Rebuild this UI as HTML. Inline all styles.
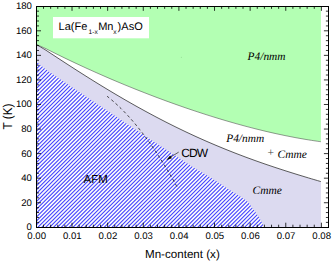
<!DOCTYPE html>
<html><head><meta charset="utf-8"><style>
html,body{margin:0;padding:0;background:#fff;width:335px;height:264px;overflow:hidden}
svg{display:block;text-rendering:geometricPrecision}
</style></head><body>
<svg width="335" height="264" viewBox="0 0 335 264">
<rect width="335" height="264" fill="#fff"/>
<path d="M36.00,6.25 L320.90,6.25 L320.90,141.73 C320.08,141.62 318.48,141.42 316.00,141.04 C313.52,140.67 309.33,140.03 306.00,139.48 C302.67,138.93 299.33,138.34 296.00,137.72 C292.67,137.11 289.33,136.46 286.00,135.78 C282.67,135.10 279.33,134.40 276.00,133.66 C272.67,132.93 269.33,132.17 266.00,131.38 C262.67,130.59 259.33,129.78 256.00,128.94 C252.67,128.10 249.33,127.23 246.00,126.35 C242.67,125.46 239.33,124.55 236.00,123.61 C232.67,122.68 229.33,121.72 226.00,120.74 C222.67,119.76 219.33,118.76 216.00,117.73 C212.67,116.71 209.33,115.67 206.00,114.60 C202.67,113.54 199.33,112.45 196.00,111.35 C192.67,110.24 189.33,109.12 186.00,107.97 C182.67,106.83 179.33,105.67 176.00,104.48 C172.67,103.30 169.33,102.10 166.00,100.88 C162.67,99.66 159.33,98.42 156.00,97.17 C152.67,95.91 149.33,94.63 146.00,93.34 C142.67,92.05 139.33,90.73 136.00,89.40 C132.67,88.07 129.33,86.72 126.00,85.36 C122.67,83.99 119.33,82.60 116.00,81.20 C112.67,79.79 109.33,78.37 106.00,76.92 C102.67,75.48 99.33,74.01 96.00,72.53 C92.67,71.05 89.33,69.55 86.00,68.02 C82.67,66.50 79.33,64.95 76.00,63.39 C72.67,61.82 69.33,60.24 66.00,58.63 C62.67,57.02 59.33,55.39 56.00,53.74 C52.67,52.08 49.33,50.28 46.00,48.71 C42.67,47.13 37.67,45.03 36.00,44.30 Z" fill="#b3ffb3"/>
<path d="M36.00,44.30 C37.67,45.30 42.67,48.19 46.00,50.28 C49.33,52.38 52.67,54.68 56.00,56.87 C59.33,59.05 62.67,61.23 66.00,63.39 C69.33,65.56 72.67,67.71 76.00,69.84 C79.33,71.97 82.67,74.09 86.00,76.19 C89.33,78.29 92.67,80.38 96.00,82.44 C99.33,84.50 102.67,86.54 106.00,88.56 C109.33,90.57 112.67,92.57 116.00,94.54 C119.33,96.51 122.67,98.46 126.00,100.38 C129.33,102.30 132.67,104.20 136.00,106.07 C139.33,107.94 142.67,109.78 146.00,111.59 C149.33,113.41 152.67,115.19 156.00,116.95 C159.33,118.70 162.67,120.43 166.00,122.13 C169.33,123.83 172.67,125.50 176.00,127.13 C179.33,128.77 182.67,130.38 186.00,131.96 C189.33,133.54 192.67,135.09 196.00,136.61 C199.33,138.13 202.67,139.62 206.00,141.08 C209.33,142.54 212.67,143.97 216.00,145.37 C219.33,146.77 222.67,148.15 226.00,149.49 C229.33,150.84 232.67,152.16 236.00,153.45 C239.33,154.74 242.67,156.00 246.00,157.24 C249.33,158.48 252.67,159.69 256.00,160.88 C259.33,162.07 262.67,163.23 266.00,164.38 C269.33,165.52 272.67,166.64 276.00,167.74 C279.33,168.85 282.67,169.93 286.00,170.99 C289.33,172.05 292.67,173.10 296.00,174.13 C299.33,175.16 302.67,176.17 306.00,177.18 C309.33,178.18 313.52,179.42 316.00,180.15 C318.48,180.89 320.08,181.35 320.90,181.59 L320.90,227.30 L36.00,227.30 Z" fill="#dcdaf0"/>
<clipPath id="hc"><path d="M36.00,61.30 C37.67,62.66 42.67,66.95 46.00,69.43 C49.33,71.91 52.67,73.94 56.00,76.20 C59.33,78.45 62.67,80.71 66.00,82.96 C69.33,85.21 72.67,87.46 76.00,89.71 C79.33,91.95 82.67,94.20 86.00,96.44 C89.33,98.69 92.67,100.93 96.00,103.17 C99.33,105.40 102.67,107.64 106.00,109.87 C109.33,112.10 112.67,114.33 116.00,116.56 C119.33,118.78 122.67,121.01 126.00,123.22 C129.33,125.44 132.67,127.65 136.00,129.86 C139.33,132.07 142.67,134.28 146.00,136.47 C149.33,138.67 152.67,140.87 156.00,143.06 C159.33,145.25 162.67,147.43 166.00,149.61 C169.33,151.79 172.67,153.96 176.00,156.12 C179.33,158.29 182.67,160.45 186.00,162.60 C189.33,164.76 192.67,167.02 196.00,169.04 C199.33,171.06 202.67,172.71 206.00,174.70 C209.33,176.69 212.67,178.88 216.00,181.00 C219.33,183.12 222.67,185.27 226.00,187.40 C229.33,189.53 232.62,191.60 236.00,193.80 C239.38,196.00 243.73,198.43 246.30,200.60 C248.87,202.77 249.70,204.63 251.40,206.80 C253.10,208.97 254.98,211.42 256.50,213.60 C258.02,215.78 259.37,218.00 260.50,219.90 C261.63,221.80 262.68,223.77 263.30,225.00 C263.92,226.23 264.05,226.92 264.20,227.30 L36.00,227.30 Z"/></clipPath>
<path d="M36.00,61.30 C37.67,62.66 42.67,66.95 46.00,69.43 C49.33,71.91 52.67,73.94 56.00,76.20 C59.33,78.45 62.67,80.71 66.00,82.96 C69.33,85.21 72.67,87.46 76.00,89.71 C79.33,91.95 82.67,94.20 86.00,96.44 C89.33,98.69 92.67,100.93 96.00,103.17 C99.33,105.40 102.67,107.64 106.00,109.87 C109.33,112.10 112.67,114.33 116.00,116.56 C119.33,118.78 122.67,121.01 126.00,123.22 C129.33,125.44 132.67,127.65 136.00,129.86 C139.33,132.07 142.67,134.28 146.00,136.47 C149.33,138.67 152.67,140.87 156.00,143.06 C159.33,145.25 162.67,147.43 166.00,149.61 C169.33,151.79 172.67,153.96 176.00,156.12 C179.33,158.29 182.67,160.45 186.00,162.60 C189.33,164.76 192.67,167.02 196.00,169.04 C199.33,171.06 202.67,172.71 206.00,174.70 C209.33,176.69 212.67,178.88 216.00,181.00 C219.33,183.12 222.67,185.27 226.00,187.40 C229.33,189.53 232.62,191.60 236.00,193.80 C239.38,196.00 243.73,198.43 246.30,200.60 C248.87,202.77 249.70,204.63 251.40,206.80 C253.10,208.97 254.98,211.42 256.50,213.60 C258.02,215.78 259.37,218.00 260.50,219.90 C261.63,221.80 262.68,223.77 263.30,225.00 C263.92,226.23 264.05,226.92 264.20,227.30 L36.00,227.30 Z" fill="#fafafc"/>
<path d="M58.500,0 L-205.500,264 M62.400,0 L-201.600,264 M66.300,0 L-197.700,264 M70.200,0 L-193.800,264 M74.100,0 L-189.900,264 M78.000,0 L-186.000,264 M81.900,0 L-182.100,264 M85.800,0 L-178.200,264 M89.700,0 L-174.300,264 M93.600,0 L-170.400,264 M97.500,0 L-166.500,264 M101.400,0 L-162.600,264 M105.300,0 L-158.700,264 M109.200,0 L-154.800,264 M113.100,0 L-150.900,264 M117.000,0 L-147.000,264 M120.900,0 L-143.100,264 M124.800,0 L-139.200,264 M128.700,0 L-135.300,264 M132.600,0 L-131.400,264 M136.500,0 L-127.500,264 M140.400,0 L-123.600,264 M144.300,0 L-119.700,264 M148.200,0 L-115.800,264 M152.100,0 L-111.900,264 M156.000,0 L-108.000,264 M159.900,0 L-104.100,264 M163.800,0 L-100.200,264 M167.700,0 L-96.300,264 M171.600,0 L-92.400,264 M175.500,0 L-88.500,264 M179.400,0 L-84.600,264 M183.300,0 L-80.700,264 M187.200,0 L-76.800,264 M191.100,0 L-72.900,264 M195.000,0 L-69.000,264 M198.900,0 L-65.100,264 M202.800,0 L-61.200,264 M206.700,0 L-57.300,264 M210.600,0 L-53.400,264 M214.500,0 L-49.500,264 M218.400,0 L-45.600,264 M222.300,0 L-41.700,264 M226.200,0 L-37.800,264 M230.100,0 L-33.900,264 M234.000,0 L-30.000,264 M237.900,0 L-26.100,264 M241.800,0 L-22.200,264 M245.700,0 L-18.300,264 M249.600,0 L-14.400,264 M253.500,0 L-10.500,264 M257.400,0 L-6.600,264 M261.300,0 L-2.700,264 M265.200,0 L1.200,264 M269.100,0 L5.100,264 M273.000,0 L9.000,264 M276.900,0 L12.900,264 M280.800,0 L16.800,264 M284.700,0 L20.700,264 M288.600,0 L24.600,264 M292.500,0 L28.500,264 M296.400,0 L32.400,264 M300.300,0 L36.300,264 M304.200,0 L40.200,264 M308.100,0 L44.100,264 M312.000,0 L48.000,264 M315.900,0 L51.900,264 M319.800,0 L55.800,264 M323.700,0 L59.700,264 M327.600,0 L63.600,264 M331.500,0 L67.500,264 M335.400,0 L71.400,264 M339.300,0 L75.300,264 M343.200,0 L79.200,264 M347.100,0 L83.100,264 M351.000,0 L87.000,264 M354.900,0 L90.900,264 M358.800,0 L94.800,264 M362.700,0 L98.700,264 M366.600,0 L102.600,264 M370.500,0 L106.500,264 M374.400,0 L110.400,264 M378.300,0 L114.300,264 M382.200,0 L118.200,264 M386.100,0 L122.100,264 M390.000,0 L126.000,264 M393.900,0 L129.900,264 M397.800,0 L133.800,264 M401.700,0 L137.700,264 M405.600,0 L141.600,264 M409.500,0 L145.500,264 M413.400,0 L149.400,264 M417.300,0 L153.300,264 M421.200,0 L157.200,264 M425.100,0 L161.100,264 M429.000,0 L165.000,264 M432.900,0 L168.900,264 M436.800,0 L172.800,264 M440.700,0 L176.700,264 M444.600,0 L180.600,264 M448.500,0 L184.500,264 M452.400,0 L188.400,264 M456.300,0 L192.300,264 M460.200,0 L196.200,264 M464.100,0 L200.100,264 M468.000,0 L204.000,264 M471.900,0 L207.900,264 M475.800,0 L211.800,264 M479.700,0 L215.700,264 M483.600,0 L219.600,264 M487.500,0 L223.500,264 M491.400,0 L227.400,264 M495.300,0 L231.300,264 M499.200,0 L235.200,264 M503.100,0 L239.100,264 M507.000,0 L243.000,264 M510.900,0 L246.900,264 M514.800,0 L250.800,264 M518.700,0 L254.700,264 M522.600,0 L258.600,264" stroke="#4040ff" stroke-width="1.06" clip-path="url(#hc)" fill="none"/>
<path d="M36.00,44.30 C37.67,45.03 42.67,47.13 46.00,48.71 C49.33,50.28 52.67,52.08 56.00,53.74 C59.33,55.39 62.67,57.02 66.00,58.63 C69.33,60.24 72.67,61.82 76.00,63.39 C79.33,64.95 82.67,66.50 86.00,68.02 C89.33,69.55 92.67,71.05 96.00,72.53 C99.33,74.01 102.67,75.48 106.00,76.92 C109.33,78.37 112.67,79.79 116.00,81.20 C119.33,82.60 122.67,83.99 126.00,85.36 C129.33,86.72 132.67,88.07 136.00,89.40 C139.33,90.73 142.67,92.05 146.00,93.34 C149.33,94.63 152.67,95.91 156.00,97.17 C159.33,98.42 162.67,99.66 166.00,100.88 C169.33,102.10 172.67,103.30 176.00,104.48 C179.33,105.67 182.67,106.83 186.00,107.97 C189.33,109.12 192.67,110.24 196.00,111.35 C199.33,112.45 202.67,113.54 206.00,114.60 C209.33,115.67 212.67,116.71 216.00,117.73 C219.33,118.76 222.67,119.76 226.00,120.74 C229.33,121.72 232.67,122.68 236.00,123.61 C239.33,124.55 242.67,125.46 246.00,126.35 C249.33,127.23 252.67,128.10 256.00,128.94 C259.33,129.78 262.67,130.59 266.00,131.38 C269.33,132.17 272.67,132.93 276.00,133.66 C279.33,134.40 282.67,135.10 286.00,135.78 C289.33,136.46 292.67,137.11 296.00,137.72 C299.33,138.34 302.67,138.93 306.00,139.48 C309.33,140.03 313.52,140.67 316.00,141.04 C318.48,141.42 320.08,141.62 320.90,141.73" fill="none" stroke="#555" stroke-width="0.6"/>
<path d="M36.00,44.30 C37.67,45.30 42.67,48.19 46.00,50.28 C49.33,52.38 52.67,54.68 56.00,56.87 C59.33,59.05 62.67,61.23 66.00,63.39 C69.33,65.56 72.67,67.71 76.00,69.84 C79.33,71.97 82.67,74.09 86.00,76.19 C89.33,78.29 92.67,80.38 96.00,82.44 C99.33,84.50 102.67,86.54 106.00,88.56 C109.33,90.57 112.67,92.57 116.00,94.54 C119.33,96.51 122.67,98.46 126.00,100.38 C129.33,102.30 132.67,104.20 136.00,106.07 C139.33,107.94 142.67,109.78 146.00,111.59 C149.33,113.41 152.67,115.19 156.00,116.95 C159.33,118.70 162.67,120.43 166.00,122.13 C169.33,123.83 172.67,125.50 176.00,127.13 C179.33,128.77 182.67,130.38 186.00,131.96 C189.33,133.54 192.67,135.09 196.00,136.61 C199.33,138.13 202.67,139.62 206.00,141.08 C209.33,142.54 212.67,143.97 216.00,145.37 C219.33,146.77 222.67,148.15 226.00,149.49 C229.33,150.84 232.67,152.16 236.00,153.45 C239.33,154.74 242.67,156.00 246.00,157.24 C249.33,158.48 252.67,159.69 256.00,160.88 C259.33,162.07 262.67,163.23 266.00,164.38 C269.33,165.52 272.67,166.64 276.00,167.74 C279.33,168.85 282.67,169.93 286.00,170.99 C289.33,172.05 292.67,173.10 296.00,174.13 C299.33,175.16 302.67,176.17 306.00,177.18 C309.33,178.18 313.52,179.42 316.00,180.15 C318.48,180.89 320.08,181.35 320.90,181.59" fill="none" stroke="#333" stroke-width="0.8"/>
<path d="M107.00,96.15 C108.17,97.12 111.67,99.91 114.00,101.97 C116.33,104.03 118.67,106.21 121.00,108.51 C123.33,110.81 125.67,113.23 128.00,115.77 C130.33,118.31 132.67,120.97 135.00,123.75 C137.33,126.53 139.67,129.43 142.00,132.45 C144.33,135.47 146.67,138.61 149.00,141.87 C151.33,145.13 153.67,148.51 156.00,152.01 C158.33,155.52 160.67,159.14 163.00,162.88 C165.33,166.62 167.67,170.48 170.00,174.46 C172.33,178.44 175.67,184.41 177.00,186.76 C178.33,189.12 177.83,188.28 178.00,188.58" fill="none" stroke="#222" stroke-width="0.8" stroke-dasharray="3,2.6"/>
<rect x="53" y="17" width="96" height="21.3" fill="#fff"/>
<rect x="36.5" y="6.5" width="292" height="221" fill="none" stroke="#000" stroke-width="1"/>
<path d="M43.52,227.30 v-2.60 M43.52,6.25 v2.60 M50.65,227.30 v-2.60 M50.65,6.25 v2.60 M57.77,227.30 v-2.60 M57.77,6.25 v2.60 M64.90,227.30 v-2.60 M64.90,6.25 v2.60 M72.03,227.30 v-4.60 M72.03,6.25 v4.60 M79.15,227.30 v-2.60 M79.15,6.25 v2.60 M86.28,227.30 v-2.60 M86.28,6.25 v2.60 M93.40,227.30 v-2.60 M93.40,6.25 v2.60 M100.53,227.30 v-2.60 M100.53,6.25 v2.60 M107.65,227.30 v-4.60 M107.65,6.25 v4.60 M114.77,227.30 v-2.60 M114.77,6.25 v2.60 M121.90,227.30 v-2.60 M121.90,6.25 v2.60 M129.03,227.30 v-2.60 M129.03,6.25 v2.60 M136.15,227.30 v-2.60 M136.15,6.25 v2.60 M143.28,227.30 v-4.60 M143.28,6.25 v4.60 M150.40,227.30 v-2.60 M150.40,6.25 v2.60 M157.53,227.30 v-2.60 M157.53,6.25 v2.60 M164.65,227.30 v-2.60 M164.65,6.25 v2.60 M171.78,227.30 v-2.60 M171.78,6.25 v2.60 M178.90,227.30 v-4.60 M178.90,6.25 v4.60 M186.03,227.30 v-2.60 M186.03,6.25 v2.60 M193.15,227.30 v-2.60 M193.15,6.25 v2.60 M200.28,227.30 v-2.60 M200.28,6.25 v2.60 M207.40,227.30 v-2.60 M207.40,6.25 v2.60 M214.53,227.30 v-4.60 M214.53,6.25 v4.60 M221.65,227.30 v-2.60 M221.65,6.25 v2.60 M228.77,227.30 v-2.60 M228.77,6.25 v2.60 M235.90,227.30 v-2.60 M235.90,6.25 v2.60 M243.03,227.30 v-2.60 M243.03,6.25 v2.60 M250.15,227.30 v-4.60 M250.15,6.25 v4.60 M257.27,227.30 v-2.60 M257.27,6.25 v2.60 M264.40,227.30 v-2.60 M264.40,6.25 v2.60 M271.53,227.30 v-2.60 M271.53,6.25 v2.60 M278.65,227.30 v-2.60 M278.65,6.25 v2.60 M285.78,227.30 v-4.60 M285.78,6.25 v4.60 M292.90,227.30 v-2.60 M292.90,6.25 v2.60 M300.02,227.30 v-2.60 M300.02,6.25 v2.60 M307.15,227.30 v-2.60 M307.15,6.25 v2.60 M314.27,227.30 v-2.60 M314.27,6.25 v2.60 M321.40,227.30 v-4.60 M321.40,6.25 v4.60 M36.40,222.39 h2.60 M328.50,222.39 h-2.60 M36.40,217.48 h2.60 M328.50,217.48 h-2.60 M36.40,212.56 h2.60 M328.50,212.56 h-2.60 M36.40,207.65 h2.60 M328.50,207.65 h-2.60 M36.40,202.74 h4.60 M328.50,202.74 h-4.60 M36.40,197.83 h2.60 M328.50,197.83 h-2.60 M36.40,192.91 h2.60 M328.50,192.91 h-2.60 M36.40,188.00 h2.60 M328.50,188.00 h-2.60 M36.40,183.09 h2.60 M328.50,183.09 h-2.60 M36.40,178.18 h4.60 M328.50,178.18 h-4.60 M36.40,173.27 h2.60 M328.50,173.27 h-2.60 M36.40,168.35 h2.60 M328.50,168.35 h-2.60 M36.40,163.44 h2.60 M328.50,163.44 h-2.60 M36.40,158.53 h2.60 M328.50,158.53 h-2.60 M36.40,153.62 h4.60 M328.50,153.62 h-4.60 M36.40,148.70 h2.60 M328.50,148.70 h-2.60 M36.40,143.79 h2.60 M328.50,143.79 h-2.60 M36.40,138.88 h2.60 M328.50,138.88 h-2.60 M36.40,133.97 h2.60 M328.50,133.97 h-2.60 M36.40,129.06 h4.60 M328.50,129.06 h-4.60 M36.40,124.14 h2.60 M328.50,124.14 h-2.60 M36.40,119.23 h2.60 M328.50,119.23 h-2.60 M36.40,114.32 h2.60 M328.50,114.32 h-2.60 M36.40,109.41 h2.60 M328.50,109.41 h-2.60 M36.40,104.49 h4.60 M328.50,104.49 h-4.60 M36.40,99.58 h2.60 M328.50,99.58 h-2.60 M36.40,94.67 h2.60 M328.50,94.67 h-2.60 M36.40,89.76 h2.60 M328.50,89.76 h-2.60 M36.40,84.85 h2.60 M328.50,84.85 h-2.60 M36.40,79.93 h4.60 M328.50,79.93 h-4.60 M36.40,75.02 h2.60 M328.50,75.02 h-2.60 M36.40,70.11 h2.60 M328.50,70.11 h-2.60 M36.40,65.20 h2.60 M328.50,65.20 h-2.60 M36.40,60.28 h2.60 M328.50,60.28 h-2.60 M36.40,55.37 h4.60 M328.50,55.37 h-4.60 M36.40,50.46 h2.60 M328.50,50.46 h-2.60 M36.40,45.55 h2.60 M328.50,45.55 h-2.60 M36.40,40.64 h2.60 M328.50,40.64 h-2.60 M36.40,35.72 h2.60 M328.50,35.72 h-2.60 M36.40,30.81 h4.60 M328.50,30.81 h-4.60 M36.40,25.90 h2.60 M328.50,25.90 h-2.60 M36.40,20.99 h2.60 M328.50,20.99 h-2.60 M36.40,16.07 h2.60 M328.50,16.07 h-2.60 M36.40,11.16 h2.60 M328.50,11.16 h-2.60" stroke="#000" stroke-width="0.8" fill="none"/>
<g font-family="Liberation Sans" font-size="9.6" fill="#000"><text x="31.9" y="230.30" text-anchor="end">0</text><text x="31.9" y="205.74" text-anchor="end">20</text><text x="31.9" y="181.18" text-anchor="end">40</text><text x="31.9" y="156.62" text-anchor="end">60</text><text x="31.9" y="132.06" text-anchor="end">80</text><text x="31.9" y="107.49" text-anchor="end">100</text><text x="31.9" y="82.93" text-anchor="end">120</text><text x="31.9" y="58.37" text-anchor="end">140</text><text x="31.9" y="33.81" text-anchor="end">160</text><text x="31.9" y="9.25" text-anchor="end">180</text><text x="36.70" y="238.7" text-anchor="middle">0.00</text><text x="72.33" y="238.7" text-anchor="middle">0.01</text><text x="107.95" y="238.7" text-anchor="middle">0.02</text><text x="143.58" y="238.7" text-anchor="middle">0.03</text><text x="179.20" y="238.7" text-anchor="middle">0.04</text><text x="214.83" y="238.7" text-anchor="middle">0.05</text><text x="250.45" y="238.7" text-anchor="middle">0.06</text><text x="286.08" y="238.7" text-anchor="middle">0.07</text><text x="321.70" y="238.7" text-anchor="middle">0.08</text></g>
<text x="182.4" y="257.5" text-anchor="middle" font-family="Liberation Sans" font-size="11.6">Mn-content (x)</text>
<text transform="translate(12.2,116.5) rotate(-90) scale(1,1.1)" text-anchor="middle" font-family="Liberation Sans" font-size="11.7">T (K)</text>
<g font-family="Liberation Sans" font-size="11"><text x="58.6" y="29.6">La(Fe</text><text x="88.6" y="33.9" font-size="6.6">1-x</text><text x="98.2" y="29.6">Mn</text><text x="113.2" y="33.9" font-size="6.6">x</text><text x="117.4" y="29.6" textLength="25.4">)AsO</text></g>
<g font-family="Liberation Serif" font-style="italic" font-size="11" fill="#000">
<text x="247.6" y="59.8" font-size="11.4">P4/nmm</text>
<text x="226.2" y="141.8" font-size="11.4">P4/nmm</text>
<text x="267.6" y="157.5" font-size="11.5"><tspan font-style="normal" fill="#444" dy="-1.9">+</tspan><tspan dx="0.6" dy="1.9"> Cmme</tspan></text>
<text x="252.5" y="193.8" font-size="11.5">Cmme</text>
</g>
<text x="181.2" y="156.6" font-family="Liberation Sans" font-size="12" textLength="26.8">CDW</text>
<text x="83.6" y="182.7" font-family="Liberation Sans" font-size="11.5">AFM</text>
<path d="M178.7,152.1 L170.5,157.2" stroke="#222" stroke-width="0.7" fill="none"/>
<path d="M166.3,159.9 L170.2,155.6 L171.9,158.2 Z" fill="#000"/>
<circle cx="181.4" cy="57.4" r="0.6" fill="#8c8" opacity="0.5"/>
</svg>
</body></html>
